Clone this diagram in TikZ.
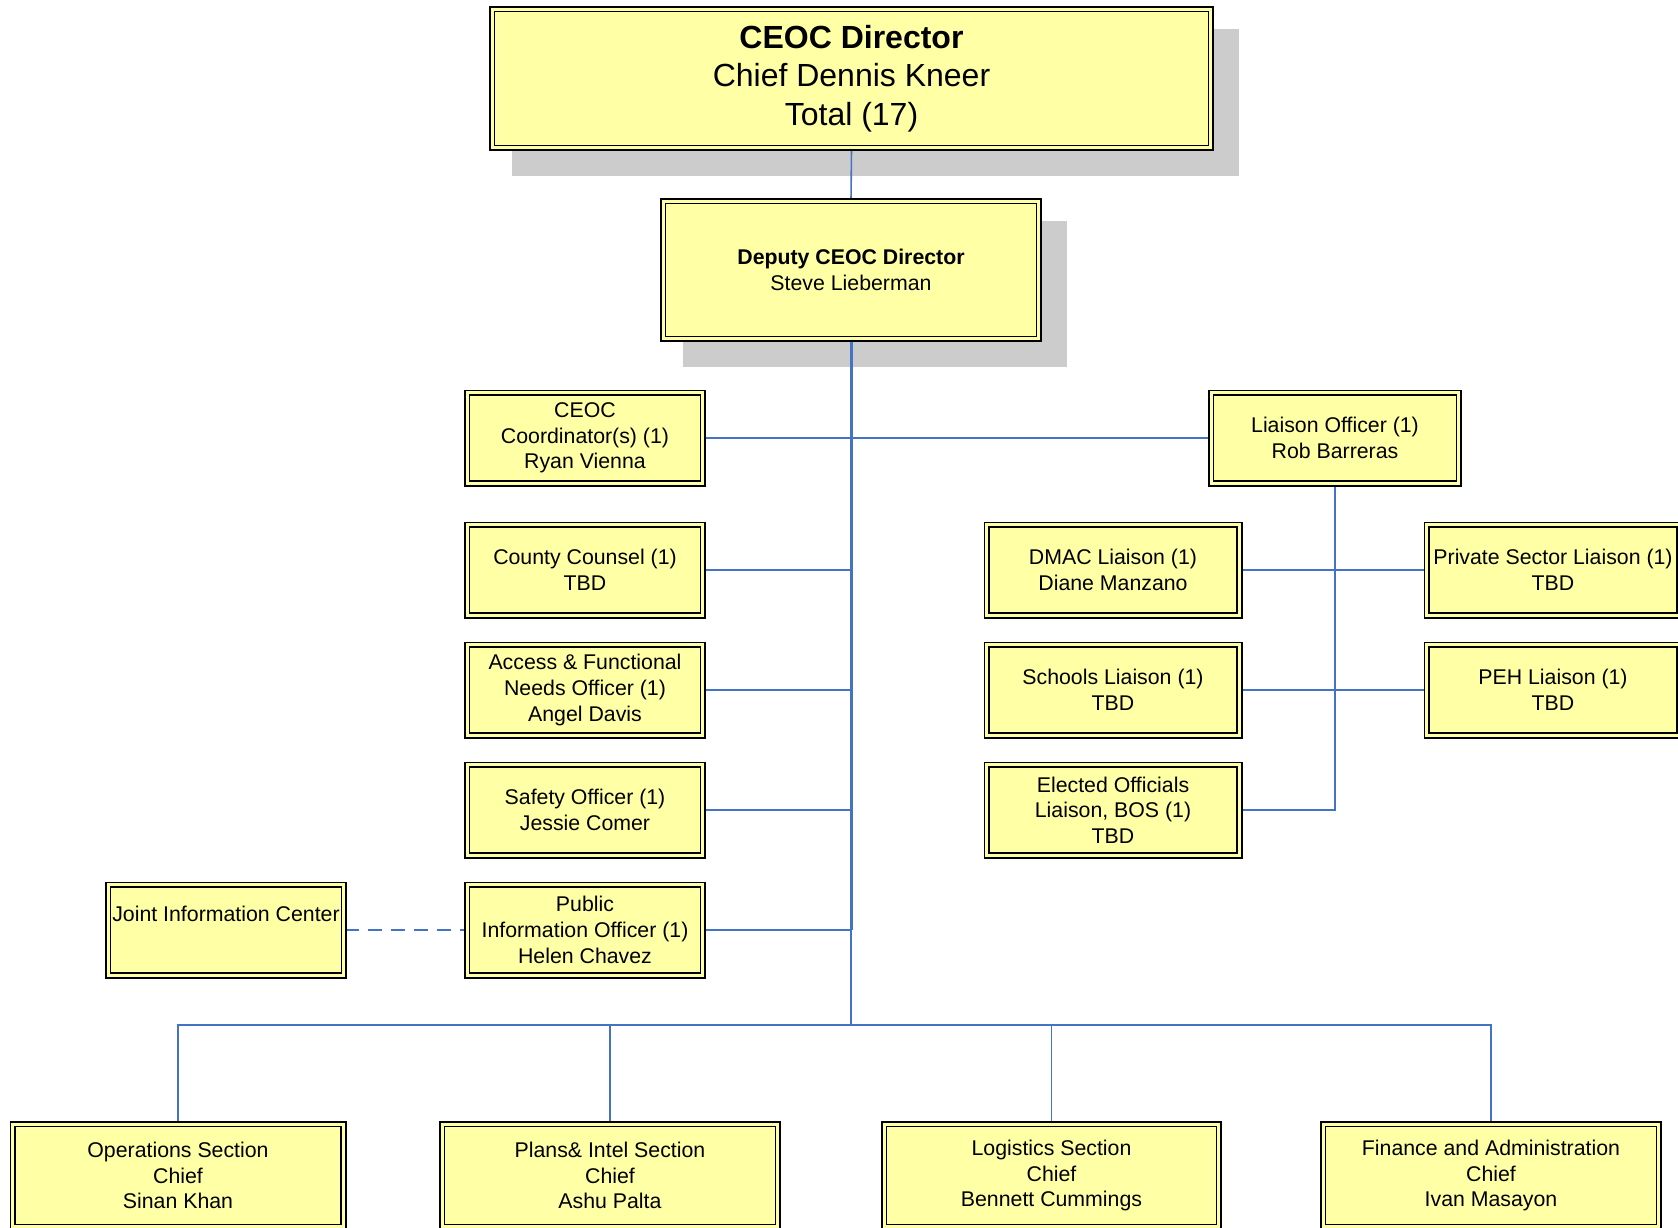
\documentclass[tikz,border=0pt]{standalone}
\usepackage{fontspec}
\setmainfont{Liberation Sans}
\usetikzlibrary{backgrounds}
\definecolor{boxfill}{RGB}{255,255,165}
\definecolor{shadowgray}{RGB}{204,204,204}
\definecolor{linkblue}{RGB}{68,114,196}
\newcommand\chartfont{\fontsize{21.3}{25.7}\selectfont}
\newcommand\chartbigfont{\fontsize{32}{38.5}\selectfont}
\tikzset{
  box/.style 2 args={draw=black, line width=1.6pt, double=boxfill, double distance=3pt,
    fill=boxfill, align=center, inner sep=0pt, text=black, font=\chartfont,
    minimum width={#1-6.2}, minimum height={#2-6.2}},
  conn/.style={draw=linkblue, line width=1.6pt},
  trunk/.style={draw=linkblue, line width=3pt},
  shadowbox/.style={fill=shadowgray},
}
\begin{document}
\begin{tikzpicture}[x=1pt,y=-1pt]
\useasboundingbox (0,0) rectangle (1678,1228);

\node[box={725}{145}, font=\chartbigfont] (ceo) at (851.5,78.5) {\textbf{CEOC Director}\\Chief Dennis Kneer\\Total (17)};
\node[box={382}{144}] (dep) at (851,270) {\textbf{Deputy CEOC Director}\\Steve Lieberman};

\node[box={242}{97}] (coord) at (585,438) {CEOC\\Coordinator(s) (1)\\Ryan Vienna};
\node[box={242}{97}] (county) at (585,570) {County Counsel (1)\\TBD};
\node[box={242}{97}] (access) at (585,690) {Access \& Functional\\Needs Officer (1)\\Angel Davis};
\node[box={242}{97}] (safety) at (585,810) {Safety Officer (1)\\Jessie Comer};
\node[box={242}{97}] (pio) at (585,930) {Public\\Information Officer (1)\\Helen Chavez};
\node[box={242}{97}] (jic) at (226,930) {Joint Information Center\\\strut};

\node[box={254}{97}] (liaison) at (1335,438) {Liaison Officer (1)\\Rob Barreras};
\node[box={259}{97}] (dmac) at (1113,570) {DMAC Liaison (1)\\Diane Manzano};
\node[box={259}{97}] (schools) at (1113,690) {Schools Liaison (1)\\TBD};
\node[box={259}{97}] (elected) at (1113,810) {Elected Officials\\Liaison, BOS (1)\\TBD};
\node[box={259}{97}] (priv) at (1553,570) {Private Sector Liaison (1)\\TBD};
\node[box={259}{97}] (peh) at (1553,690) {PEH Liaison (1)\\TBD};

\node[box={337}{109}] (ops) at (178,1175.5) {Operations Section\\Chief\\Sinan Khan};
\node[box={342}{109}] (plans) at (610,1175.5) {Plans\& Intel Section\\Chief\\Ashu Palta};
\node[box={341}{109}] (logi) at (1051.5,1175.5) {Logistics Section\\Chief\\Bennett Cummings};
\node[box={342}{109}] (fin) at (1491,1175.5) {Finance and Administration\\Chief\\Ivan Masayon};

\coordinate (bus) at (850,1025);
\coordinate (tj) at (dep.south |- pio.east);

\begin{scope}[on background layer]
  % shadows
  \fill[shadowbox] ([shift={(20.9,20.9)}]ceo.north west) rectangle ([shift={(27.1,27.1)}]ceo.south east);
  \fill[shadowbox] ([shift={(20.9,20.9)}]dep.north west) rectangle ([shift={(27.1,27.1)}]dep.south east);
  % connectors
  \draw[conn] (ceo.south) -- (dep.north);
  \draw[trunk] (dep.south) -- (tj);
  \draw[conn] (tj) -- (tj |- bus);
  \draw[conn] (coord.east) -- (liaison.west);
  \draw[conn] (county.east) -- (county.east -| dep.south);
  \draw[conn] (access.east) -- (access.east -| dep.south);
  \draw[conn] (safety.east) -- (safety.east -| dep.south);
  \draw[conn] (pio.east) -- (tj);
  \draw[conn, dash pattern=on 14pt off 9pt] (jic.east) -- (pio.west);
  \draw[conn] (liaison.south) -- (liaison.south |- elected.east) -- (elected.east);
  \draw[conn] (dmac.east) -- (priv.west);
  \draw[conn] (schools.east) -- (peh.west);
  \draw[conn] (ops.north) -- (ops.north |- bus) -- (fin.north |- bus) -- (fin.north);
  \draw[conn] (plans.north) -- (plans.north |- bus);
  \draw[conn] (logi.north) -- (logi.north |- bus);
\end{scope}
\end{tikzpicture}
\end{document}
